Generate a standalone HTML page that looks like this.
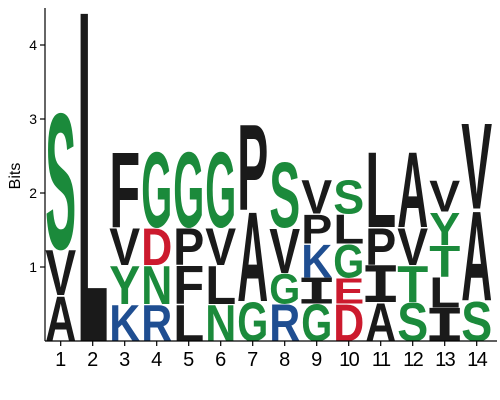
<!DOCTYPE html>
<html><head><meta charset="utf-8"><style>
html,body{margin:0;padding:0;background:#fff;width:500px;height:400px;overflow:hidden;}
svg{display:block;font-family:"Liberation Sans",sans-serif;}
</style></head><body>
<svg id="chart" width="500" height="400" viewBox="0 0 500 400" xmlns="http://www.w3.org/2000/svg">
<defs><clipPath id="plotclip"><rect x="45" y="8" width="455" height="334"/></clipPath></defs>
<g id="letters" clip-path="url(#plotclip)"></g>
<g id="axes"></g>
</svg>
<script>
// stacks bottom->top: letters and bit heights
const positions = [1,2,3,4,5,6,7,8,9,10,11,12,13,14];
const stackLetters = [
 ["A","V","S"],
 ["L"],
 ["K","Y","V","F"],
 ["R","N","D","G"],
 ["L","F","P","G"],
 ["N","L","V","G"],
 ["G","A","P"],
 ["R","G","V","S"],
 ["G","I","K","P","V"],
 ["D","E","G","L","S"],
 ["A","I","P","L"],
 ["S","T","V","A"],
 ["I","L","T","Y","V"],
 ["S","A","V"]
];
const stackBits = [
 [0.62,0.63,1.88],
 [4.6],
 [0.5,0.53,0.51,1.04],
 [0.5,0.53,0.51,1.04],
 [0.5,0.53,0.51,1.04],
 [0.5,0.53,0.51,1.04],
 [0.54,1.24,1.19],
 [0.51,0.41,0.62,0.9],
 [0.51,0.35,0.46,0.4,0.47],
 [0.51,0.35,0.46,0.4,0.47],
 [0.53,0.5,0.51,1.04],
 [0.53,0.5,0.51,1.04],
 [0.45,0.42,0.43,0.45,0.43],
 [0.55,1.24,1.19]
];
const yTicks = [1,2,3,4];
const colorMap = {G:"#1b8a3b",S:"#1b8a3b",T:"#1b8a3b",Y:"#1b8a3b",N:"#1b8a3b",Q:"#1b8a3b",C:"#1b8a3b",
 K:"#1f4e91",R:"#1f4e91",H:"#1f4e91",D:"#cc1a2e",E:"#cc1a2e"};
const NS="http://www.w3.org/2000/svg";
const y0=341, bitPx=74.0, x1=60.7, colStep=32, colW=31;
const yS=b=>y0-b*bitPx;
const xS=p=>x1+(p-1)*colStep;
const lg=document.getElementById('letters');
const ax=document.getElementById('axes');
positions.forEach((p,i)=>{
  let cum=0;
  stackLetters[i].forEach((ch,j)=>{
    const h=stackBits[i][j];
    const top=yS(cum+h), bot=yS(cum);
    cum+=h;
    const t=document.createElementNS(NS,'text');
    
    
    t.setAttribute('font-size','100');
    t.setAttribute('font-weight','bold');
    if(ch==='I') t.setAttribute('font-family','"Liberation Mono", monospace');
    t.setAttribute('fill',colorMap[ch]||'#1a1a1a');
    t.textContent=ch;
    lg.appendChild(t);
    const bb=t.getBBox();
    const cap = ch==='I' ? 66 : 71.6;
    let w=colW, bx=bb.x, bw=bb.width;
    if(ch==='I'){ bx=bb.x+bb.width*0.12; bw=bb.width*0.76; }
    const sx=w/bw, sy=(bot-top)/cap;
    t.setAttribute('transform','translate('+(xS(p)-colW/2-bx*sx)+','+bot+') scale('+sx+','+sy+')');
  });
});
function line(x1_,y1_,x2_,y2_,name){
  const l=document.createElementNS(NS,'line');
  l.setAttribute('x1',x1_);l.setAttribute('y1',y1_);l.setAttribute('x2',x2_);l.setAttribute('y2',y2_);
  l.setAttribute('stroke','#000');l.setAttribute('stroke-width','1.2');
  
  
  ax.appendChild(l);
}
line(45,8,45,y0,'y-axis-line');
line(45,y0,497,y0,'x-axis-line');
yTicks.forEach(v=>{
  line(40,yS(v),45,yS(v),'y-tick-'+v);
  const t=document.createElementNS(NS,'text');
  
  
  t.setAttribute('x',37);t.setAttribute('y',yS(v)+5);
  t.setAttribute('text-anchor','end');t.setAttribute('font-size','14');
  t.textContent=v;ax.appendChild(t);
});
positions.forEach(p=>{
  line(xS(p),y0,xS(p),y0+5,'x-tick-'+p);
  const t=document.createElementNS(NS,'text');
  
  
  t.setAttribute('x',xS(p));t.setAttribute('y',366);
  t.setAttribute('text-anchor','middle');t.setAttribute('font-size','20');
  if(p>=10)t.setAttribute('letter-spacing','-1.5');
  t.textContent=p;ax.appendChild(t);
});
const yt=document.createElementNS(NS,'text');


yt.setAttribute('transform','translate(20,176) rotate(-90)');
yt.setAttribute('text-anchor','middle');yt.setAttribute('font-size','16');
yt.textContent='Bits';ax.appendChild(yt);
</script>
</body></html>
